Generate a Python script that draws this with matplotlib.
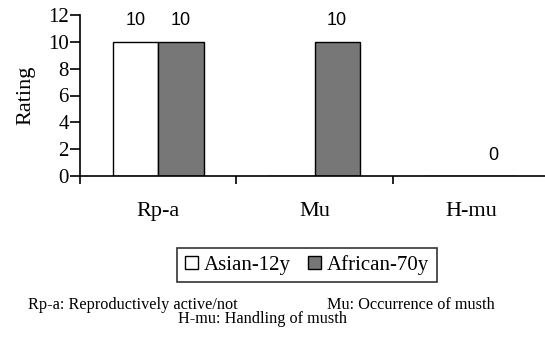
import matplotlib

matplotlib.use("Agg")

import matplotlib.pyplot as plt
import numpy as np

categories = ["Rp-a", "Mu", "H-mu"]
asian_12y = [10, 0, 0]
african_70y = [10, 10, 0]
# which bars carry a value label (as in the original figure)
asian_labels = ["10", "", ""]
african_labels = ["10", "10", "0"]

SERIF = "Liberation Serif"
SANS = "Liberation Sans"

fig = plt.figure(figsize=(5.45, 3.46), dpi=100)
ax = fig.add_axes([80 / 545, 1 - 176 / 346, 469 / 545, 161 / 346])

x = np.arange(len(categories))
width = 0.29
b1 = ax.bar(x - width / 2, asian_12y, width, color="white", edgecolor="black",
            linewidth=1.0, label="Asian-12y")
b2 = ax.bar(x + width / 2, african_70y, width, color="#777777", edgecolor="black",
            linewidth=1.0, label="African-70y")

ax.bar_label(b1, labels=asian_labels, padding=9, fontsize=13, family=SANS)
ax.bar_label(b2, labels=african_labels, padding=9, fontsize=13, family=SANS)

ax.set_xlim(-0.5, 2.5)
ax.set_ylim(0, 12)
ax.set_yticks(np.arange(0, 13, 2))
for lbl in ax.get_yticklabels():
    lbl.set_family(SERIF)
    lbl.set_fontsize(15)
ax.tick_params(axis="y", direction="out", length=7, width=1.2, pad=1)

# category boundaries as major ticks, names centred as minor ticks
ax.set_xticks(np.arange(-0.5, 2.6, 1.0))
ax.set_xticklabels([])
ax.set_xticks(x, minor=True)
ax.set_xticklabels(categories, minor=True, family=SERIF, fontsize=16)
ax.tick_params(axis="x", which="major", direction="out", length=6, width=1.2)
ax.tick_params(axis="x", which="minor", length=0, pad=19)

ax.set_ylabel("Rating", family=SERIF, fontsize=16, labelpad=9)

for side in ["top", "right"]:
    ax.spines[side].set_visible(False)
for side in ["left", "bottom"]:
    ax.spines[side].set_linewidth(1.2)

leg = fig.legend(handles=[b1, b2], loc="center", bbox_to_anchor=(307 / 545, 1 - 265 / 346),
                 ncol=2, frameon=True, fancybox=False, edgecolor="black",
                 prop={"family": SERIF, "size": 15}, handlelength=0.63, handleheight=0.63,
                 handletextpad=0.3, columnspacing=0.8, borderpad=0.35, borderaxespad=0)
leg.get_frame().set_linewidth(1.2)

fig.text(28 / 545, 1 - 309 / 346, "Rp-a: Reproductively active/not", family=SERIF,
         fontsize=11.7, va="baseline", ha="left")
fig.text(495 / 545, 1 - 309 / 346, "Mu: Occurrence of musth", family=SERIF,
         fontsize=11.7, va="baseline", ha="right")
fig.text(262 / 545, 1 - 323 / 346, "H-mu: Handling of musth", family=SERIF,
         fontsize=11.7, va="baseline", ha="center")

fig.savefig("out.png", dpi=100)
